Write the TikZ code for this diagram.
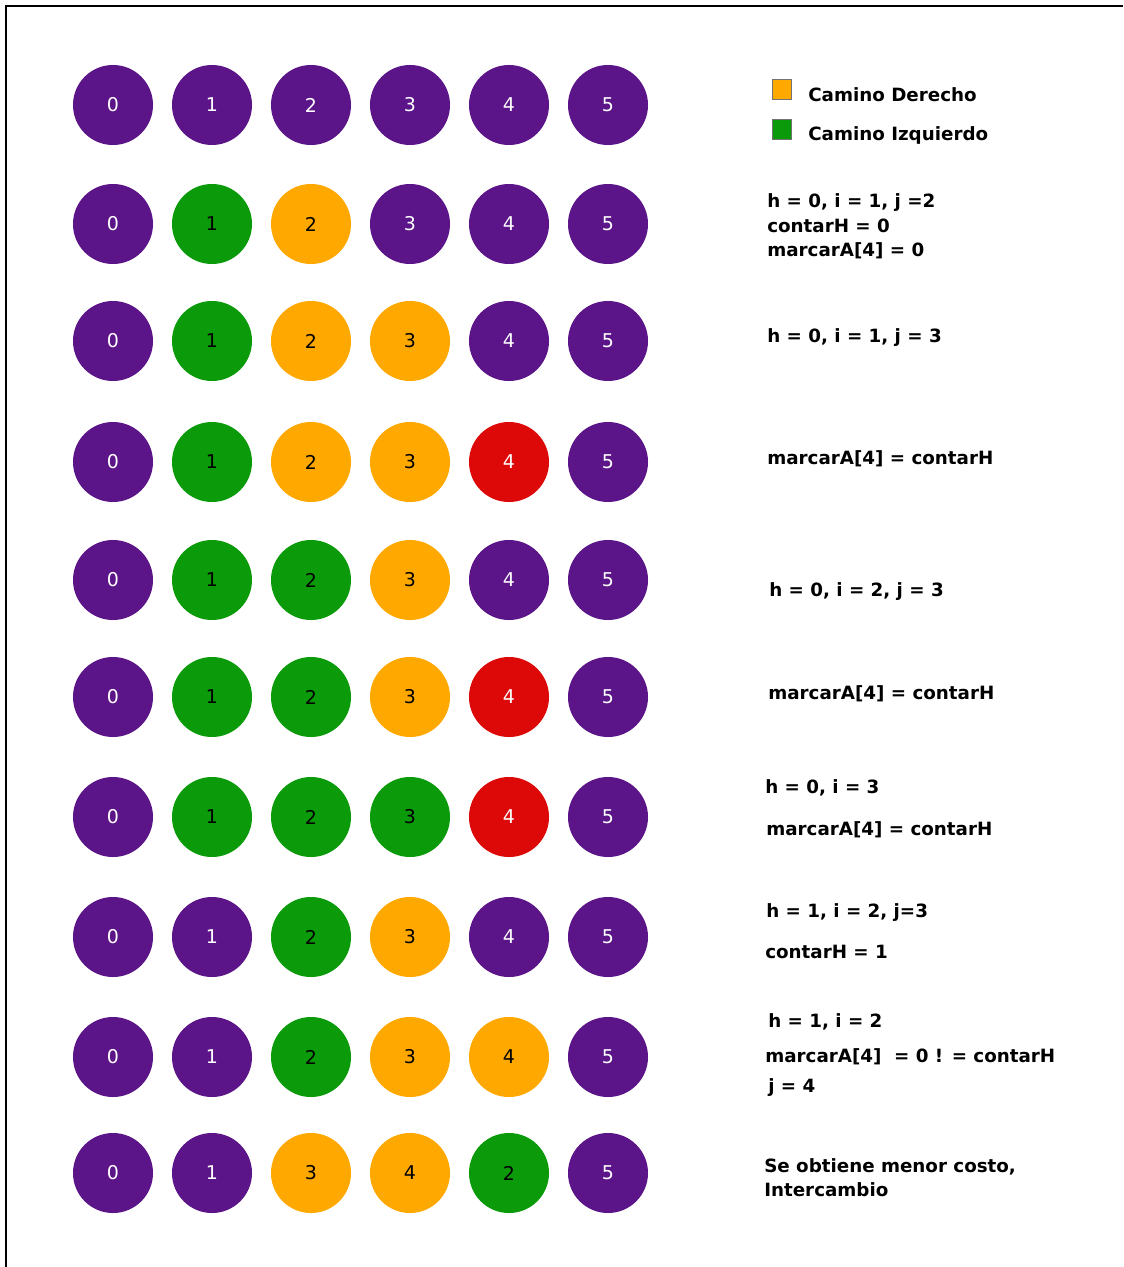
\documentclass[tikz,border=0pt]{standalone}
\usepackage{fontspec}
\setmainfont{DejaVu Sans}

\definecolor{morado}{HTML}{5C1489}
\definecolor{verde}{HTML}{0A9A0A}
\definecolor{naranja}{HTML}{FFA800}
\definecolor{rojo}{HTML}{DD0808}

\tikzset{
  nodo/.style={circle, minimum size=2cm, inner sep=0pt, font=\fontsize{13.5}{16}\selectfont},
  mor/.style={nodo, fill=morado, text=white},
  ver/.style={nodo, fill=verde, text=black},
  nar/.style={nodo, fill=naranja, text=black},
  roj/.style={nodo, fill=rojo, text=white},
  nota/.style={anchor=base west, inner sep=0pt, font=\bfseries\fontsize{13}{15}\selectfont},
  cuadro/.style={draw=black!55, line width=0.6pt}
}

\begin{document}
\begin{tikzpicture}[x=0.025cm, y=-0.025cm]
    \useasboundingbox (0,0) rectangle (1123,1267);
    \draw[line width=1pt] (6,1267) -- (6,6) -- (1123,6);
    % filas de nodos
    \foreach \y/\fila [count=\r] in {
        105/{mor/0,mor/1,mor/2,mor/3,mor/4,mor/5},
        224/{mor/0,ver/1,nar/2,mor/3,mor/4,mor/5},
        341/{mor/0,ver/1,nar/2,nar/3,mor/4,mor/5},
        462/{mor/0,ver/1,nar/2,nar/3,roj/4,mor/5},
        580/{mor/0,ver/1,ver/2,nar/3,mor/4,mor/5},
        697/{mor/0,ver/1,ver/2,nar/3,roj/4,mor/5},
        817/{mor/0,ver/1,ver/2,ver/3,roj/4,mor/5},
        937/{mor/0,mor/1,ver/2,nar/3,mor/4,mor/5},
        1057/{mor/0,mor/1,ver/2,nar/3,nar/4,mor/5},
        1173/{mor/0,mor/1,nar/3,nar/4,ver/2,mor/5}}
    {
        \foreach \est/\lab [count=\c] in \fila
            \node[\est] (n\r-\c) at ({14+99*\c},\y) {\lab};
    }
    % leyenda
    \fill[naranja] (772,79) rectangle (791,99);
    \draw[cuadro] (772,79) rectangle (791,99);
    \fill[verde] (772,119) rectangle (791,139);
    \draw[cuadro] (772,119) rectangle (791,139);
    \node[nota] (der) at (808,102) {Camino Derecho};
    \node[nota] (izq) at (808,141) {Camino Izquierdo};
    % pasos
    \node[nota] (p2a) at (767,208) {h = 0, i = 1, j =2};
    \node[nota] (p2b) at (767,233) {contarH = 0};
    \node[nota] (p2c) at (767,257) {marcarA[4] = 0};
    \node[nota] (p3) at (767,342) {h = 0, i = 1, j = 3};
    \node[nota] (p4) at (767,464) {marcarA[4] = contarH};
    \node[nota] (p5) at (769,596) {h = 0, i = 2, j = 3};
    \node[nota] (p6) at (768,699) {marcarA[4] = contarH};
    \node[nota] (p7a) at (765,793) {h = 0, i = 3};
    \node[nota] (p7b) at (766,835) {marcarA[4] = contarH};
    \node[nota] (p8a) at (766,917) {h = 1, i = 2, j=3};
    \node[nota] (p8b) at (765,958) {contarH = 1};
    \node[nota] (p9a) at (768,1027) {h = 1, i = 2};
    \node[nota] (p9b) at (765,1062) {marcarA[4]\ \ = 0 ! = contarH};
    \node[nota] (p9c) at (768,1092) {j = 4};
    \node[nota] (p10a) at (764,1172) {Se obtiene menor costo,};
    \node[nota] (p10b) at (764,1196) {Intercambio};
\end{tikzpicture}
\end{document}
